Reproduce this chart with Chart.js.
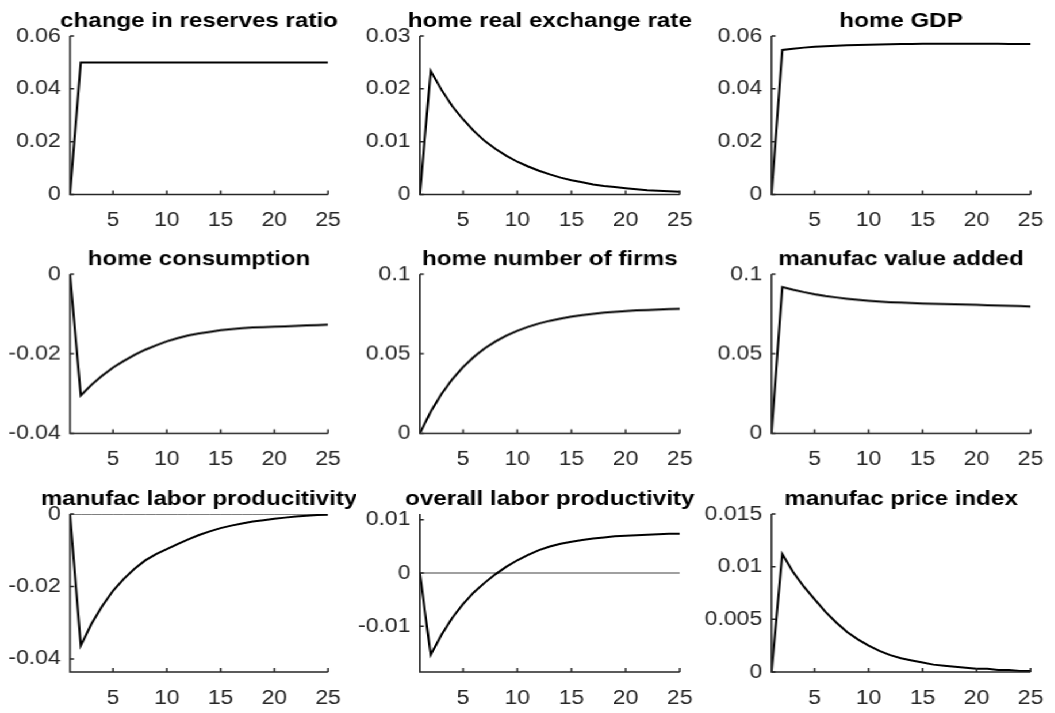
<!DOCTYPE html>
<html>
<head>
<meta charset="utf-8">
<script src="https://cdn.jsdelivr.net/npm/chart.js@4.4.1/dist/chart.umd.min.js"></script>
<style>
  html, body { margin: 0; padding: 0; background: #fff; overflow: hidden; }
  #stage { position: absolute; left: 0; top: 0; height: 713px; transform-origin: 0 0; }
  .panel { position: absolute; }
</style>
</head>
<body>
<div id="stage"></div>
<script>
// periods and impulse responses

const periods = [1, 2, 3, 4, 5, 6, 7, 8, 9, 10, 11, 12, 13, 14, 15, 16, 17, 18, 19, 20, 21, 22, 23, 24, 25];

const reservesRatio = [0, 0.05, 0.05, 0.05, 0.05, 0.05, 0.05, 0.05, 0.05, 0.05, 0.05, 0.05, 0.05,
    0.05, 0.05, 0.05, 0.05, 0.05, 0.05, 0.05, 0.05, 0.05, 0.05, 0.05, 0.05];
const realExchangeRate = [0, 0.0234, 0.0198, 0.0167, 0.0142, 0.0120, 0.0101, 0.0086, 0.0073, 0.0062,
    0.0053, 0.0045, 0.0038, 0.0032, 0.0027, 0.0023, 0.0019, 0.0016, 0.0014, 0.0012, 0.0010, 0.0008,
    0.0007, 0.0006, 0.0005];
const homeGdp = [0, 0.0547, 0.0552, 0.0556, 0.0559, 0.0561, 0.0563, 0.0565, 0.0566, 0.0567, 0.0568,
    0.0569, 0.0570, 0.0570, 0.0571, 0.0571, 0.0571, 0.0571, 0.0571, 0.0571, 0.0571, 0.0571, 0.0570,
    0.0570, 0.0570];
const homeConsumption = [0, -0.0305, -0.0278, -0.0255, -0.0235, -0.0218, -0.0203, -0.0190, -0.0179,
    -0.0169, -0.0161, -0.0154, -0.0149, -0.0145, -0.0141, -0.0138, -0.0136, -0.0134, -0.0133, -0.0132,
    -0.0131, -0.0130, -0.0129, -0.0128, -0.0127];
const homeFirms = [0, 0.0135, 0.0247, 0.0340, 0.0417, 0.0481, 0.0534, 0.0578, 0.0614, 0.0644, 0.0669,
    0.0690, 0.0707, 0.0721, 0.0733, 0.0743, 0.0751, 0.0758, 0.0763, 0.0768, 0.0772, 0.0775, 0.0778,
    0.0780, 0.0782];
const manufacValueAdded = [0, 0.0919, 0.0902, 0.0887, 0.0874, 0.0863, 0.0854, 0.0846, 0.0839, 0.0833,
    0.0828, 0.0824, 0.0821, 0.0818, 0.0816, 0.0814, 0.0812, 0.0811, 0.0809, 0.0807, 0.0805, 0.0803,
    0.0801, 0.0799, 0.0797];
const manufacLaborProd = [0, -0.0363, -0.0303, -0.0254, -0.0212, -0.0179, -0.0151, -0.0128, -0.0111,
    -0.0097, -0.0083, -0.0070, -0.0058, -0.0048, -0.0039, -0.0032, -0.0026, -0.0021, -0.0017, -0.0013,
    -0.0010, -0.0007, -0.0005, -0.0003, -0.0002];
const overallLaborProd = [0, -0.0154, -0.0116, -0.0084, -0.0058, -0.0036, -0.0018, -0.0002, 0.0012,
    0.0024, 0.0034, 0.0043, 0.0050, 0.0055, 0.0059, 0.0062, 0.0065, 0.0067, 0.0069, 0.0070, 0.0071,
    0.0072, 0.0073, 0.0074, 0.0074];
const manufacPriceIndex = [0, 0.0112, 0.0095, 0.0081, 0.0069, 0.0057, 0.0047, 0.0038, 0.0031, 0.0025,
    0.0020, 0.0016, 0.0013, 0.0011, 0.0009, 0.0007, 0.0006, 0.0005, 0.0004, 0.0003, 0.0003, 0.0002,
    0.0002, 0.0001, 0.0001];

// titles and ticks

const titles = ['change in reserves ratio', 'home real exchange rate', 'home GDP',
    'home consumption', 'home number of firms', 'manufac value added',
    'manufac labor producitivity', 'overall labor productivity', 'manufac price index'];

const xTicks = [5, 10, 15, 20, 25];
const yTicks = [
    [0, 0.02, 0.04, 0.06],
    [0, 0.01, 0.02, 0.03],
    [0, 0.02, 0.04, 0.06],
    [-0.04, -0.02, 0],
    [0, 0.05, 0.1],
    [0, 0.05, 0.1],
    [-0.04, -0.02, 0],
    [-0.01, 0, 0.01],
    [0, 0.005, 0.01, 0.015]
];
const yMin = [0, 0, 0, -0.04, 0, 0, -0.0436, -0.0186, 0];
const yMax = [0.06, 0.03, 0.06, 0, 0.1, 0.1, 0, 0.0111, 0.015];

const series = [reservesRatio, realExchangeRate, homeGdp, homeConsumption, homeFirms,
    manufacValueAdded, manufacLaborProd, overallLaborProd, manufacPriceIndex];

// zero reference line (panel index -> colour, width)
const zeroLines = { 6: ['#000000', 1], 7: ['#808080', 1.5] };

// layout of the axes boxes on screen

const S = 1.15;  // horizontal stretch of the original figure
const colLeft = [70, 420, 771];
const colRight = [335, 686, 1037];
const rowTop = [35.5, 274.3, 514.3];
const rowBottom = [194, 432.7, 672.3];
const padL = 70, padR = 22, padT = 38, padB = 40;

Chart.defaults.font.family = '"Liberation Sans", Arial, Helvetica, sans-serif';
Chart.defaults.font.size = 20;
Chart.defaults.color = '#262626';

const stage = document.getElementById('stage');
stage.style.width = (1055 / S) + 'px';
stage.style.transform = 'scaleX(' + S + ')';

// matlab-ish axes: left + bottom lines, ticks pointing inwards, bold title
const matlabAxes = {
    id: 'matlabAxes',
    afterDraw(chart, args, opts) {
        const ctx = chart.ctx;
        const a = chart.chartArea;
        const xs = chart.scales.x, ys = chart.scales.y;
        ctx.save();
        ctx.strokeStyle = '#262626';
        ctx.lineWidth = 1.5;
        ctx.beginPath();
        ctx.moveTo(a.left, a.top);
        ctx.lineTo(a.left, a.bottom);
        ctx.lineTo(a.right, a.bottom);
        ctx.stroke();

        ctx.beginPath();
        for (const t of opts.yTicks) {
            const py = ys.getPixelForValue(t);
            ctx.moveTo(a.left, py);
            ctx.lineTo(a.left + 4 / S, py);
        }
        for (const t of xTicks) {
            const px = xs.getPixelForValue(t);
            ctx.moveTo(px, a.bottom);
            ctx.lineTo(px, a.bottom - 4);
        }
        ctx.stroke();

        ctx.fillStyle = '#000';
        ctx.font = 'bold 21px "Liberation Sans", Arial, Helvetica, sans-serif';
        ctx.textAlign = 'center';
        ctx.textBaseline = 'alphabetic';
        ctx.fillText(opts.title, (a.left + a.right) / 2, a.top - 9);
        ctx.restore();
    }
};

for (let i = 0; i < 9; i++) {
    const c = i % 3, r = Math.floor(i / 3);
    const axL = colLeft[c], axR = colRight[c], axT = rowTop[r], axB = rowBottom[r];

    const div = document.createElement('div');
    div.className = 'panel';
    div.style.left = ((axL - padL) / S) + 'px';
    div.style.width = ((axR - axL + padL + padR) / S) + 'px';
    div.style.top = (axT - padT) + 'px';
    div.style.height = (axB - axT + padT + padB) + 'px';
    const canvas = document.createElement('canvas');
    div.appendChild(canvas);
    stage.appendChild(div);

    const datasets = [{
        data: periods.map((p, k) => ({ x: p, y: series[i][k] })),
        borderColor: '#000',
        borderWidth: 2,
        pointRadius: 0,
        tension: 0,
        fill: false
    }];
    if (zeroLines[i]) {
        datasets.push({
            data: periods.map(p => ({ x: p, y: 0 })),
            borderColor: zeroLines[i][0],
            borderWidth: zeroLines[i][1],
            pointRadius: 0,
            fill: false
        });
    }

    const ticksY = yTicks[i];
    new Chart(canvas, {
        type: 'line',
        data: { datasets: datasets },
        options: {
            responsive: true,
            maintainAspectRatio: false,
            animation: false,
            layout: { padding: { top: padT, right: padR / S, left: 0, bottom: 0 } },
            scales: {
                x: {
                    type: 'linear',
                    min: 1,
                    max: 25,
                    grid: { display: false, drawTicks: false },
                    border: { display: false },
                    ticks: { padding: 14, maxRotation: 0, autoSkip: false },
                    afterBuildTicks: s => { s.ticks = xTicks.map(v => ({ value: v })); },
                    afterFit: s => { s.height = padB; }
                },
                y: {
                    min: yMin[i],
                    max: yMax[i],
                    grid: { display: false, drawTicks: false },
                    border: { display: false },
                    ticks: { padding: 8, callback: v => String(v) },
                    afterBuildTicks: s => { s.ticks = ticksY.map(v => ({ value: v })); },
                    afterFit: s => { s.width = padL / S; }
                }
            },
            plugins: {
                legend: { display: false },
                tooltip: { enabled: false },
                matlabAxes: { title: titles[i], yTicks: ticksY }
            }
        },
        plugins: [matlabAxes]
    });
}
</script>
</body>
</html>
